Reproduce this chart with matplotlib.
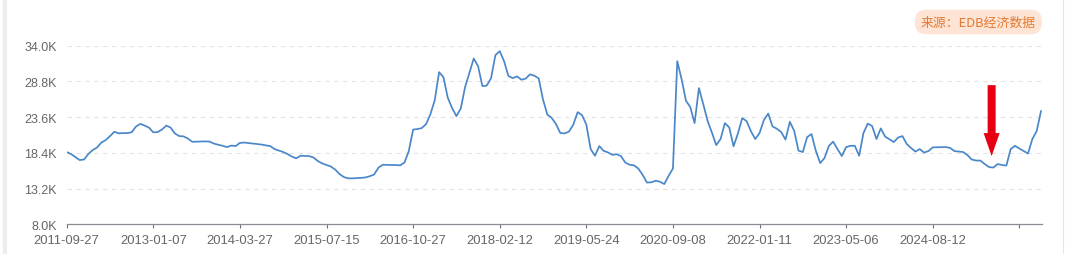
import matplotlib
matplotlib.use("Agg")
import matplotlib.pyplot as plt
from matplotlib.patches import FancyArrow
from matplotlib.lines import Line2D

plt.rcParams['font.family'] = ['Liberation Sans', 'Noto Sans CJK SC', 'DejaVu Sans']

# values in thousands, category axis (one point per step)
values = [
    18.52, 18.23, 17.79, 17.35, 17.43, 18.23, 18.81, 19.17, 19.90, 20.26,
    20.84, 21.47, 21.24, 21.28, 21.28, 21.40, 22.23, 22.62, 22.37, 22.08,
    21.38, 21.43, 21.79, 22.37, 22.08, 21.21, 20.84, 20.80, 20.48, 20.01,
    20.03, 20.04, 20.07, 20.04, 19.75, 19.58, 19.43, 19.24, 19.46, 19.39,
    19.85, 19.90, 19.83, 19.75, 19.68, 19.61, 19.49, 19.39, 18.95, 18.73,
    18.52, 18.23, 17.86, 17.60, 17.98, 17.96, 17.93, 17.72, 17.21, 16.87,
    16.63, 16.41, 15.97, 15.32, 14.88, 14.69, 14.69, 14.72, 14.76, 14.82,
    15.00, 15.24, 16.26, 16.67, 16.65, 16.63, 16.63, 16.58, 16.99, 18.66,
    21.79, 21.86, 22.01, 22.59, 24.04, 26.08, 30.15, 29.42, 26.44, 24.92,
    23.75, 24.84, 27.97, 30.08, 32.14, 31.02, 28.12, 28.19, 29.28, 32.62,
    33.21, 31.75, 29.60, 29.28, 29.53, 29.05, 29.21, 29.83, 29.63, 29.24,
    26.15, 23.97, 23.49, 22.59, 21.28, 21.24, 21.50, 22.52, 24.33, 23.90,
    22.52, 18.95, 17.98, 19.39, 18.69, 18.46, 18.11, 18.20, 17.93, 16.99,
    16.67, 16.58, 16.12, 15.20, 14.08, 14.11, 14.34, 14.20, 13.86, 15.05,
    16.12, 31.75, 29.13, 26.01, 25.06, 22.73, 27.83, 25.50, 23.07, 21.35,
    19.53, 20.41, 22.73, 22.11, 19.35, 21.21, 23.46, 23.03, 21.57, 20.41,
    21.28, 23.17, 24.12, 22.25, 21.91, 21.43, 20.33, 22.92, 21.61, 18.73,
    18.52, 20.70, 21.13, 18.71, 16.92, 17.64, 19.39, 20.04, 18.95, 17.93,
    19.24, 19.43, 19.43, 17.98, 21.28, 22.66, 22.30, 20.41, 21.96, 20.77,
    20.38, 19.97, 20.63, 20.84, 19.68, 19.10, 18.59, 18.95, 18.44, 18.66,
    19.20, 19.21, 19.23, 19.24, 19.13, 18.66, 18.59, 18.52, 18.08, 17.43,
    17.28, 17.28, 16.77, 16.33, 16.26, 16.77, 16.63, 16.55, 18.95, 19.42,
    19.03, 18.66, 18.30, 20.41, 21.57, 24.48,
]
tick_labels = ["2011-09-27", "2013-01-07", "2014-03-27", "2015-07-15",
               "2016-10-27", "2018-02-12", "2019-05-24", "2020-09-08",
               "2022-01-11", "2023-05-06", "2024-08-12", ""]
tick_step = 20
y_ticks = [8.0, 13.2, 18.4, 23.6, 28.8, 34.0]

W, H = 1071, 255
fig = plt.figure(figsize=(W / 100, H / 100), dpi=100)
ax = fig.add_axes([66.7 / W, 29.7 / H, 975.6 / W, 178.6 / H])

ax.plot(range(len(values)), values, color='#4a87c9', lw=1.25, solid_joinstyle='round')

ax.set_xlim(0, len(values) - 0.7)
ax.set_ylim(8.0, 34.0)
ax.set_xticks([i * tick_step for i in range(len(tick_labels))])
ax.set_xticklabels(tick_labels)
ax.set_yticks(y_ticks)
ax.set_yticklabels([f"{v:.1f}K" for v in y_ticks])

ax.tick_params(axis='x', length=3, width=0.8, color='#6e7079', pad=4,
               labelsize=9.4, labelcolor='#666666')
ax.tick_params(axis='y', length=0, pad=7, labelsize=9, labelcolor='#666666')

ax.yaxis.grid(True, color='#e3e3e3', lw=0.8, ls=(0, (4, 4)))
ax.set_axisbelow(True)
for s in ['top', 'right', 'left']:
    ax.spines[s].set_visible(False)
ax.spines['bottom'].set_color('#8a8c94')
ax.spines['bottom'].set_linewidth(0.9)

# red arrow pointing at the recent low
ax.add_patch(FancyArrow(213.6, 28.26, 0, -10.33, width=1.85, head_width=3.7,
                        head_length=3.35, length_includes_head=True,
                        color='#e60012', lw=0))

# source badge
fig.text(978.4 / W, 1 - 23 / H, "来源：EDB经济数据", ha='center', va='center',
         fontsize=9.3, color='#e57a33', family=['Noto Sans CJK SC', 'DejaVu Sans'],
         bbox=dict(boxstyle='round,pad=0.45,rounding_size=0.85',
                   fc='#fde4d4', ec='none'))

# faint container borders
fig.add_artist(Line2D([5 / W, 5 / W], [0, 1], color='#ededed', lw=3))
fig.add_artist(Line2D([1063 / W, 1063 / W], [0, 1], color='#e6e6e6', lw=0.8))

fig.savefig('out.png', dpi=100)
